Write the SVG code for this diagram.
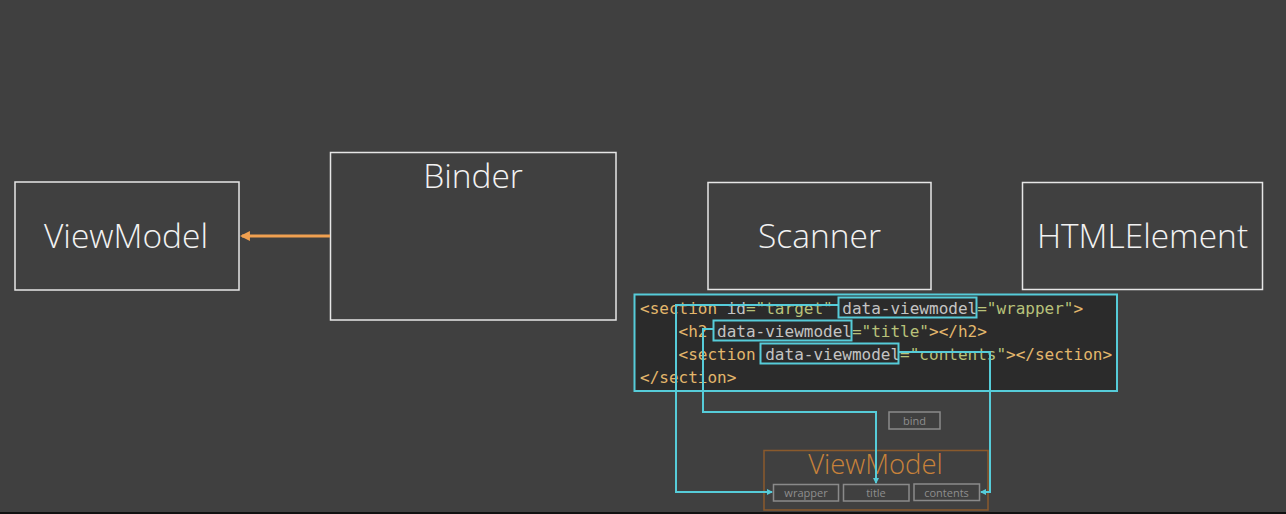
<svg xmlns="http://www.w3.org/2000/svg" width="1286" height="514" viewBox="0 0 1286 514">
<defs>
<style>
.box{fill:none;stroke:#e6e6e6;stroke-width:1.5}
.lbl{font-family:"Open Sans","Noto Sans",sans-serif;font-weight:300;fill:#f2f2f2;text-anchor:middle}
.code{font-family:"DejaVu Sans Mono","Liberation Mono",monospace;font-size:16px;white-space:pre}
.tag{fill:#e3b76c}
.att{fill:#c4c4c4}
.val{fill:#b8c27a}
.hl{fill:none;stroke:#56ccd9;stroke-width:2}
.cn{fill:none;stroke:#56ccd9;stroke-width:2}
.small{fill:none;stroke:#8a8a8a;stroke-width:1.5}
.stxt{font-family:"Open Sans","Noto Sans",sans-serif;font-size:11px;fill:#8e8e8e;text-anchor:middle}
</style>
<marker id="ac" viewBox="0 0 6 6" refX="5" refY="3" markerWidth="3" markerHeight="3" orient="auto"><path d="M0,0 L6,3 L0,6 z" fill="#56ccd9"/></marker>
<marker id="ao" viewBox="0 0 10 10" refX="8" refY="5" markerWidth="3.3" markerHeight="3.3" orient="auto"><path d="M0,0 L10,5 L0,10 z" fill="#f0a050"/></marker>
</defs>
<rect x="0" y="0" width="1286" height="514" fill="#404040"/>
<rect x="0" y="512" width="1286" height="2" fill="#111"/>

<g id="viewmodel">
<rect class="box" x="15" y="182" width="224" height="108"/>
<text class="lbl" x="126" y="248" font-size="33.5">ViewModel</text>
</g>
<g id="binder">
<rect class="box" x="330.5" y="152.5" width="285.5" height="167.5"/>
<text class="lbl" x="473" y="188" font-size="33.5">Binder</text>
</g>
<g id="scanner">
<rect class="box" x="708" y="182.5" width="223" height="107"/>
<text class="lbl" x="819.5" y="248" font-size="33.5">Scanner</text>
</g>
<g id="htmlelement">
<rect class="box" x="1022.5" y="182.5" width="240" height="107"/>
<text class="lbl" x="1142.5" y="248" font-size="33.5">HTMLElement</text>
</g>

<g id="code">
<rect x="634.5" y="294.5" width="482.5" height="96.5" fill="#2b2b2b" stroke="#56ccd9" stroke-width="2"/>
<text class="code" x="640" y="314"><tspan class="tag">&lt;section</tspan><tspan class="att"> id</tspan><tspan class="val">="target"</tspan><tspan class="att"> data-viewmodel</tspan><tspan class="val">="wrapper"</tspan><tspan class="tag">&gt;</tspan></text>
<text class="code" x="640" y="337"><tspan class="tag">    &lt;h2</tspan><tspan class="att"> data-viewmodel</tspan><tspan class="val">="title"</tspan><tspan class="tag">&gt;&lt;/h2&gt;</tspan></text>
<text class="code" x="640" y="360"><tspan class="tag">    &lt;section</tspan><tspan class="att"> data-viewmodel</tspan><tspan class="val">="contents"</tspan><tspan class="tag">&gt;&lt;/section&gt;</tspan></text>
<text class="code" x="640" y="383"><tspan class="tag">&lt;/section&gt;</tspan></text>
<rect class="hl" x="838.5" y="297.5" width="138" height="20"/>
<rect class="hl" x="713.5" y="320.5" width="138" height="20"/>
<rect class="hl" x="760.5" y="343.5" width="138" height="20"/>
</g>

<g id="bind">
<rect class="small" x="889" y="412" width="51" height="17"/>
<text class="stxt" x="914.5" y="424.5">bind</text>
</g>

<g id="viewmodel-small">
<rect x="764" y="450.5" width="224" height="59.5" fill="none" stroke="#8a5a2c" stroke-width="1.5"/>
<text x="875.5" y="473.5" font-family="Open Sans,Noto Sans,sans-serif" font-weight="300" font-size="27.5" fill="#c8823a" text-anchor="middle">ViewModel</text>
<rect class="small" x="773.5" y="484.5" width="65" height="16.5"/>
<text class="stxt" x="806" y="497">wrapper</text>
<rect class="small" x="843.5" y="484.5" width="65.5" height="16.5"/>
<text class="stxt" x="876" y="497">title</text>
<rect class="small" x="914" y="484" width="65.5" height="16.5"/>
<text class="stxt" x="946.5" y="496.5">contents</text>
</g>

<g id="connectors">
<path class="cn" d="M838 305 H676 V492 H772" marker-end="url(#ac)"/>
<path class="cn" d="M713 329 H703 V412 H876 V483" marker-end="url(#ac)"/>
<path class="cn" d="M898 352 H990 V492 H981" marker-end="url(#ac)"/>
<path d="M330 236 H242" fill="none" stroke="#f0a050" stroke-width="3" marker-end="url(#ao)"/>
</g>
</svg>
